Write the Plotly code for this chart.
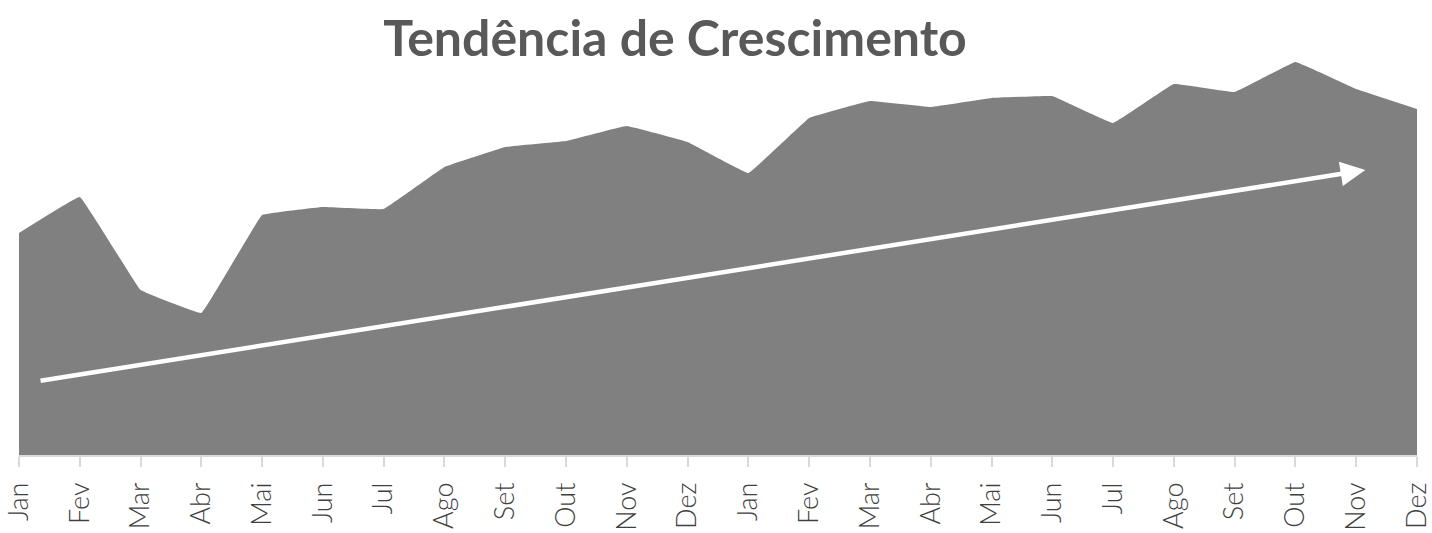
import plotly.graph_objects as go

months = ["Jan", "Fev", "Mar", "Abr", "Mai", "Jun", "Jul", "Ago", "Set", "Out", "Nov", "Dez",
          "Jan", "Fev", "Mar", "Abr", "Mai", "Jun", "Jul", "Ago", "Set", "Out", "Nov", "Dez"]
values = [222, 258, 165, 142, 240, 248, 246, 288, 308, 314, 329, 313,
          282, 337, 354, 348, 357, 359, 332, 371, 363, 393, 366, 346]
trend_x = [0.33, 22.15]
trend_y = [74, 285]

x_idx = list(range(len(months)))

fig = go.Figure()
fig.add_trace(go.Scatter(
    x=x_idx, y=values, mode="lines", fill="tozeroy",
    line=dict(color="#808080", width=0, shape="spline", smoothing=0.15),
    fillcolor="#808080", hoverinfo="skip", showlegend=False,
))

fig.add_annotation(
    x=trend_x[1], y=trend_y[1], ax=trend_x[0], ay=trend_y[0],
    xref="x", yref="y", axref="x", ayref="y",
    showarrow=True, arrowhead=2, arrowsize=1.1, arrowwidth=4.5, arrowcolor="white", text="",
)

fig.update_layout(
    width=1432, height=533,
    margin=dict(l=19, r=15, t=55, b=78, autoexpand=False),
    paper_bgcolor="white", plot_bgcolor="white",
    font=dict(family="Lato", color="#595959"),
    title=dict(text="<b>Tendência de Crescimento</b>", x=675/1432, xref="container", xanchor="center",
               y=1 - 38/533, yref="container", yanchor="middle",
               font=dict(family="Lato", size=50, color="#595959")),
    xaxis=dict(range=[0, 23], tickmode="array", tickvals=x_idx, ticktext=months, tickangle=-90,
               automargin=False, ticklabeloverflow="allow", ticklabelstandoff=5,
               showgrid=False, zeroline=False, showline=True, linecolor="#d9d9d9", linewidth=1.5,
               ticks="outside", ticklen=10, tickcolor="#d9d9d9", tickwidth=1.5,
               tickfont=dict(family="Lato", size=27, color="#404040", weight=300)),
    yaxis=dict(range=[0, 400], visible=False, showgrid=False, zeroline=False),
)

fig.write_html("out.html", config={"displayModeBar": False},
               post_script="document.body.style.margin='0';document.body.style.overflow='hidden';")
